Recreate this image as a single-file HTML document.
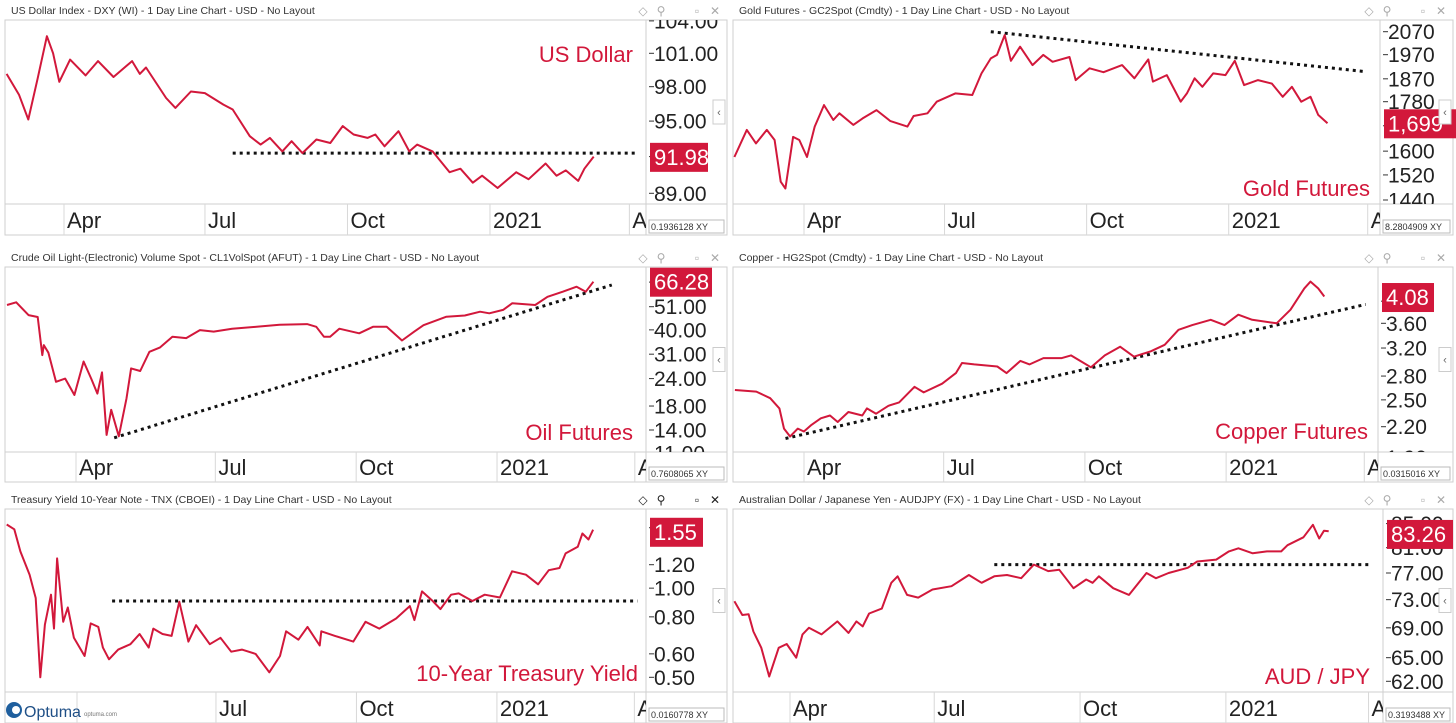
<!DOCTYPE html>
<html><head><meta charset="utf-8"><style>
html,body{margin:0;padding:0;background:#fff;width:1456px;height:723px;overflow:hidden}
svg{display:block;font-family:"Liberation Sans","DejaVu Sans",sans-serif}
</style></head><body>
<svg id="root" width="1456" height="723" viewBox="0 0 1456 723" xmlns="http://www.w3.org/2000/svg"></svg>
<script>
const monthDays=[91,182,274,366,456];
const monthLabels=["Apr","Jul","Oct","2021","A"];

const usdDays=[52,60,66,72,78,82,86,93,103,111,121,133,138,142,155,161,171,180,192,198,209,216,222,230,236,243,252,261,269,276,285,290,296,305,312,317,327,338,345,353,359,369,381,389,400,407,413,421,425,431];
const usdValues=[99.14,97.29,95.14,98.71,102.57,101.0,98.43,100.43,99.0,100.29,98.86,100.29,99.14,99.71,97.0,96.14,97.57,97.43,96.43,96.0,93.71,93.0,93.57,92.43,93.29,92.29,93.43,93.14,94.57,93.86,93.57,93.86,92.86,94.14,92.43,93.0,92.43,90.71,91.0,89.86,90.43,89.43,90.71,90.14,91.43,90.43,90.86,90.0,91.0,92.0];
const usdTrendDays=[198,458];
const usdTrendValues=[92.29,92.29];
const usdTicks=[104,101,98,95,92,89];

const goldDays=[44,52,58,65,70,74,77,82,86,91,96,102,108,112,121,127,136,145,156,160,169,175,187,198,204,210,214,219,223,229,237,244,250,261,265,274,283,295,303,312,315,324,333,337,342,347,354,362,368,374,383,392,399,405,411,417,422,428];
const goldValues=[1580,1675,1627,1675,1639,1498,1476,1650,1639,1580,1687,1767,1711,1736,1693,1717,1748,1707,1687,1726,1736,1780,1812,1806,1892,1954,1969,2055,1944,2004,1926,1969,1940,1960,1865,1913,1897,1926,1872,1950,1859,1885,1780,1812,1872,1838,1892,1885,1944,1845,1865,1851,1799,1838,1780,1799,1730,1699];
const goldTrendDays=[210,453];
const goldTrendValues=[2070,1899];
const goldTicks=[2070,1970,1870,1780,1690,1600,1520,1440];

const oilDays=[44,50,58,64,67,68,71,76,82,88,94,99,103,106,109,112,117,122,125,131,137,144,152,161,170,179,191,207,222,240,246,251,255,261,274,283,292,302,310,316,331,343,353,359,368,374,389,397,407,416,422,427];
const oilValues=[51.9,53.4,46.7,45.8,30.7,34.1,31.5,23.2,24.0,20.2,28.7,24.0,20.5,25.6,13.3,17.3,13.1,19.5,26.7,26.0,31.8,33.3,37.2,36.7,39.9,39.3,40.5,41.3,42.2,42.5,41.3,37.2,37.2,40.5,38.6,41.3,41.3,35.8,39.3,42.0,45.9,46.5,48.4,47.6,49.3,52.9,51.9,56.6,59.7,62.9,59.7,66.3];
const oilTrendDays=[114,439];
const oilTrendValues=[12.9,64.0];
const oilTicks=[66,51,40,31,24,18,14,11];

const copperDays=[44,58,67,73,76,80,85,89,94,100,106,111,118,127,130,136,144,151,161,167,179,188,192,200,215,221,230,236,245,257,263,269,276,285,295,304,315,324,333,342,354,363,372,381,397,406,415,419,424,428];
const copperValues=[2.62,2.60,2.52,2.40,2.18,2.10,2.18,2.15,2.22,2.29,2.32,2.25,2.36,2.32,2.40,2.34,2.43,2.47,2.66,2.59,2.70,2.84,2.98,2.96,2.93,2.84,3.01,2.96,3.05,3.05,3.09,3.01,2.92,3.09,3.22,3.07,3.15,3.25,3.49,3.57,3.66,3.57,3.75,3.66,3.60,3.84,4.25,4.39,4.25,4.09];
const copperTrendDays=[77,455];
const copperTrendValues=[2.08,3.94];
const copperTicks=[4.0,3.6,3.2,2.8,2.5,2.2,1.9];

const tnxDays=[43,48,52,58,62,65,68,72,74,76,80,83,87,94,98,103,106,110,116,124,130,136,139,145,151,156,162,167,176,183,190,197,206,215,222,226,234,240,248,249,258,270,278,287,298,307,310,315,322,327,334,339,348,356,366,374,383,391,398,405,409,417,420,424,427];
const tnxValues=[1.64,1.58,1.33,1.11,0.926,0.50,0.753,0.95,0.73,1.26,0.77,0.86,0.68,0.59,0.76,0.74,0.63,0.575,0.62,0.647,0.70,0.63,0.73,0.70,0.69,0.90,0.66,0.75,0.647,0.68,0.61,0.62,0.60,0.52,0.59,0.715,0.67,0.74,0.64,0.715,0.69,0.66,0.77,0.73,0.79,0.87,0.78,0.975,0.905,0.85,0.95,0.96,0.905,0.95,0.93,1.14,1.11,1.03,1.15,1.17,1.31,1.38,1.53,1.46,1.575];
const tnxTrendDays=[112,456];
const tnxTrendValues=[0.905,0.905];
const tnxTicks=[1.6,1.2,1.0,0.8,0.6,0.5];

const audDays=[54,59,63,66,71,76,82,87,93,97,101,109,119,126,131,135,139,147,153,157,163,170,179,191,202,210,218,226,235,243,252,259,268,276,280,284,293,303,314,320,328,340,346,358,366,372,381,390,399,403,413,419,423,426,429];
const audValues=[72.76,70.8,70.9,68.5,66.3,62.6,66.3,66.8,65.0,68.1,69.0,68.1,69.9,68.3,69.9,69.2,71.0,71.7,75.5,76.5,73.7,73.3,74.5,75.0,76.7,75.5,76.5,76.7,76.2,78.3,77.3,77.5,74.7,76.0,75.5,76.5,74.7,73.7,77.0,76.2,77.0,77.8,78.8,79.1,80.4,80.9,80.1,80.4,80.4,81.4,82.7,84.8,82.5,83.8,83.7];
const audTrendDays=[218,454];
const audTrendValues=[78.3,78.3];
const audTicks=[85,81,77,73,69,65,62];

const NS="http://www.w3.org/2000/svg";
const root=document.getElementById('root');
const RED="#d2183b";
function mk(tag,attrs,parent){const e=document.createElementNS(NS,tag);for(const k in attrs)e.setAttribute(k,attrs[k]);(parent||root).appendChild(e);return e;}

function panel(c,days,vals,tDays,tVals,ticks,fmt){
  const g=mk('g',{});
  
  
  const xAt=d=>c.xApr+(d-91)*c.ppd;
  const k=(c.y2-c.y1)/(Math.log(c.v1)-Math.log(c.v2));
  const yAt=v=>c.y1+(Math.log(c.v1)-Math.log(v))*k;
  const t=mk('text',{x:c.L+6,y:c.T-6,'font-size':10.5,fill:'#333'},g);t.textContent=c.title;
  
  const icons=['◇','⚲','▫','✕'];const ix=[c.W-84,c.W-66,c.W-30,c.W-12];
  icons.forEach((s,i)=>{const e=mk('text',{x:c.L+ix[i],y:c.T-5,'font-size':12,fill:c.dark?'#222':'#aaa','text-anchor':'middle'},g);e.textContent=s;
    });
  const fr=mk('rect',{x:c.L,y:c.T,width:c.W,height:c.BB-c.T,fill:'#fff',stroke:'#cfcfcf','stroke-width':1},g);
  
  mk('line',{x1:c.R,y1:c.T,x2:c.R,y2:c.BB,stroke:'#cfcfcf'},g);
  mk('line',{x1:c.L,y1:c.B,x2:c.L+c.W,y2:c.B,stroke:'#cfcfcf'},g);
  const cp=mk('clipPath',{id:c.id+'clip'},g);mk('rect',{x:c.L,y:c.T,width:c.R-c.L,height:c.B-c.T},cp);
  const ca=mk('clipPath',{id:c.id+'aclip'},g);mk('rect',{x:c.R,y:c.T,width:c.L+c.W-c.R,height:c.B-c.T},ca);
  const cb=mk('clipPath',{id:c.id+'bclip'},g);mk('rect',{x:c.L,y:c.B,width:c.R-c.L,height:c.BB-c.B},cb);
  const bg=mk('g',{'clip-path':'url(#'+c.id+'bclip)'},g);
  monthDays.forEach((d,i)=>{const x=xAt(d);
    mk('line',{x1:x-3,y1:c.B,x2:x-3,y2:c.BB,stroke:'#d8d8d8'},bg);
    const e=mk('text',{x:x,y:c.BB-7,'font-size':22,fill:'#222'},bg);e.textContent=monthLabels[i];
    });
  const ag=mk('g',{'clip-path':'url(#'+c.id+'aclip)'},g);
  ticks.forEach(v=>{const y=yAt(v);
    mk('line',{x1:c.R+3,y1:y,x2:c.R+8,y2:y,stroke:'#333'},ag);
    const e=mk('text',{x:c.R+8,y:y+7.5,'font-size':21,fill:'#222'},ag);e.textContent=fmt(v);
    });
  const pg=mk('g',{'clip-path':'url(#'+c.id+'clip)'},g);
  const tl=mk('polyline',{points:tDays.map((d,i)=>xAt(d).toFixed(1)+','+yAt(tVals[i]).toFixed(1)).join(' '),fill:'none',stroke:'#111','stroke-width':3,'stroke-dasharray':'3 4'},pg);
  
  const pl=mk('polyline',{points:days.map((d,i)=>xAt(d).toFixed(1)+','+yAt(vals[i]).toFixed(1)).join(' '),fill:'none',stroke:RED,'stroke-width':2,'stroke-linejoin':'round'},pg);
  
  const lb=mk('text',{x:c.lx,y:c.ly,'font-size':22,fill:RED,'text-anchor':'end'},g);lb.textContent=c.label;
  
  const by=yAt(c.badgeVal);
  const br=mk('rect',{x:c.R+4,y:by-14,width:c.bw,height:29,fill:RED},g);
  
  const bt=mk('text',{x:c.R+8,y:by+8,'font-size':22,fill:'#fff'},g);bt.textContent=c.badgeText;
  
  const cbn=mk('rect',{x:c.L+c.W-14,y:c.T+(c.B-c.T)/2-12,width:12,height:24,fill:'#fff',stroke:'#ccc'},g);
  
  const ct=mk('text',{x:c.L+c.W-8,y:c.T+(c.B-c.T)/2+4,'font-size':11,fill:'#666','text-anchor':'middle'},g);ct.textContent='‹';
  const sb=mk('rect',{x:c.R+3,y:c.BB-15,width:c.L+c.W-c.R-6,height:13,fill:'#fff',stroke:'#bbb'},g);
  
  const st=mk('text',{x:c.R+5,y:c.BB-5,'font-size':9,fill:'#333'},g);st.textContent=c.scale+'  XY';
}
const f2=v=>v.toFixed(2), f0=v=>v.toFixed(0);
panel({id:'usd',L:5,T:20,W:722,R:646,B:204,BB:235,xApr:67,ppd:1.549,v1:101,y1:53.3,v2:89,y2:193.3,
 title:'US Dollar Index - DXY (WI) - 1 Day Line Chart - USD - No Layout',label:'US Dollar',lx:633,ly:62,badgeVal:91.98,badgeText:'91.98',bw:58,scale:'0.1936128'},
 usdDays,usdValues,usdTrendDays,usdTrendValues,usdTicks,f2);
panel({id:'gold',L:733,T:20,W:720,R:1380,B:204,BB:235,xApr:807,ppd:1.5444,v1:2070,y1:31.7,v2:1440,y2:200,
 title:'Gold Futures - GC2Spot (Cmdty) - 1 Day Line Chart - USD - No Layout',label:'Gold Futures',lx:1370,ly:196,badgeVal:1699,badgeText:'1,699',bw:75,scale:'8.2804909'},
 goldDays,goldValues,goldTrendDays,goldTrendValues,goldTicks,f0);
panel({id:'oil',L:5,T:267,W:722,R:646,B:452,BB:482,xApr:79,ppd:1.531,v1:51,y1:306.7,v2:14,y2:430,
 title:'Crude Oil Light-(Electronic) Volume Spot - CL1VolSpot (AFUT) - 1 Day Line Chart - USD - No Layout',label:'Oil Futures',lx:633,ly:440,badgeVal:66.28,badgeText:'66.28',bw:62,scale:'0.7608065'},
 oilDays,oilValues,oilTrendDays,oilTrendValues,oilTicks,f2);
panel({id:'copper',L:733,T:267,W:720,R:1378,B:452,BB:482,xApr:807,ppd:1.535,v1:3.6,y1:323.3,v2:2.2,y2:426.7,
 title:'Copper - HG2Spot (Cmdty) - 1 Day Line Chart - USD - No Layout',label:'Copper Futures',lx:1368,ly:439,badgeVal:4.08,badgeText:'4.08',bw:52,scale:'0.0315016'},
 copperDays,copperValues,copperTrendDays,copperTrendValues,copperTicks,f2);
panel({id:'tnx',L:5,T:509,W:722,R:646,B:692,BB:723,xApr:80,ppd:1.527,v1:1.2,y1:564.7,v2:0.5,y2:677.3,dark:true,
 title:'Treasury Yield 10-Year Note - TNX (CBOEI) - 1 Day Line Chart - USD - No Layout',label:'10-Year Treasury Yield',lx:638,ly:681,badgeVal:1.55,badgeText:'1.55',bw:53,scale:'0.0160778'},
 tnxDays,tnxValues,tnxTrendDays,tnxTrendValues,tnxTicks,f2);
panel({id:'audjpy',L:733,T:509,W:720,R:1383,B:692,BB:723,xApr:793,ppd:1.585,v1:77,y1:573,v2:62,y2:681.3,
 title:'Australian Dollar / Japanese Yen - AUDJPY (FX) - 1 Day Line Chart - USD - No Layout',label:'AUD / JPY',lx:1370,ly:684,badgeVal:83.26,badgeText:'83.26',bw:66,scale:'0.3193488'},
 audDays,audValues,audTrendDays,audTrendValues,audTicks,f2);
const lg=mk('g',{});


mk('rect',{x:6,y:693,width:70,height:29,fill:'#fff'},lg);
mk('rect',{x:76,y:693,width:50,height:29,fill:'#fff'},lg);
mk('line',{x1:77,y1:693,x2:77,y2:722,stroke:'#d8d8d8'},lg);
mk('circle',{cx:14,cy:710,r:8,fill:'#1f5f9e'},lg);
mk('circle',{cx:16,cy:710,r:4,fill:'#fff'},lg);
const ot=mk('text',{x:24,y:717,'font-size':16,fill:'#1f4f86'},lg);ot.textContent='Optuma';
const os=mk('text',{x:84,y:716,'font-size':6,fill:'#777'},lg);os.textContent='optuma.com';
</script>
</body></html>
